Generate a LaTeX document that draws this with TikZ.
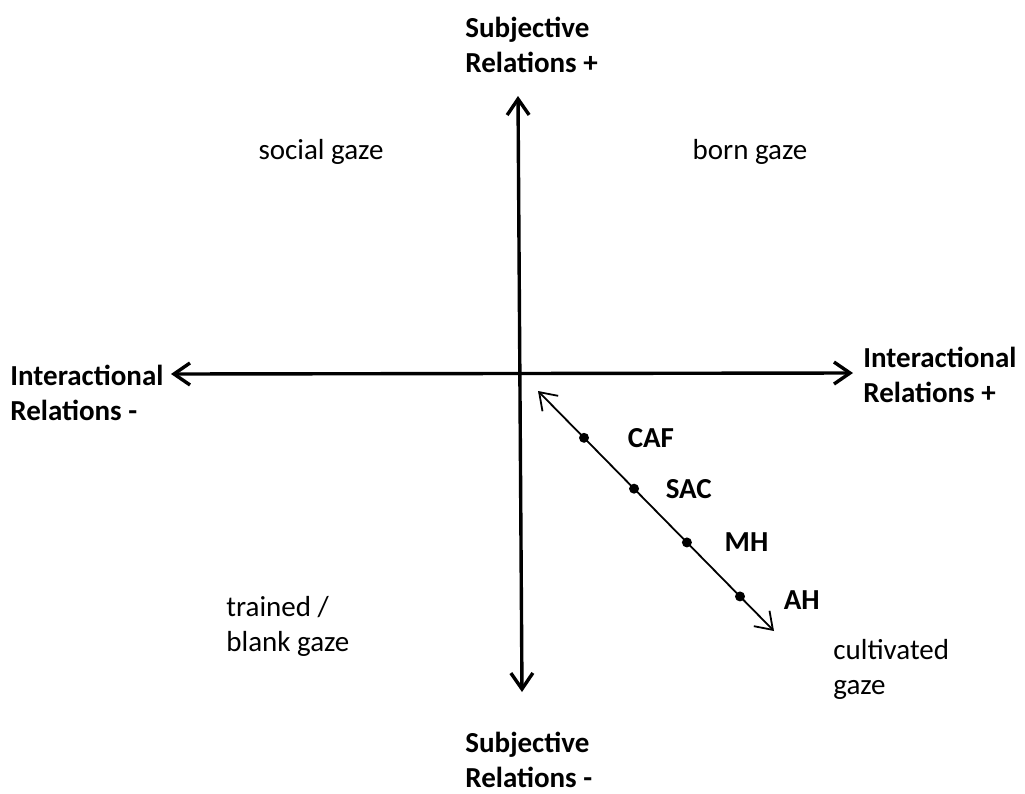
\documentclass[tikz,border=0pt]{standalone}
\usepackage{fontspec}
\setmainfont{Carlito}
\usetikzlibrary{arrows.meta,positioning,calc}
\tikzset{
  axislbl/.style={inner sep=0pt, align=left, font=\fontsize{14.5}{17.5}\selectfont\bfseries},
  gazelbl/.style={inner sep=0pt, align=left, font=\fontsize{14.5}{17.5}\selectfont},
  ptlbl/.style={inner sep=0pt, font=\fontsize{14.5}{17.5}\selectfont\bfseries},
  ptdot/.style={circle, fill=black, inner sep=0pt, minimum size=5pt},
  axarr/.style={{Straight Barb[length=8pt,width=11pt]}-{Straight Barb[length=8pt,width=11pt]}, line width=1.7pt},
  dgarr/.style={{Straight Barb[length=8pt,width=11pt]}-{Straight Barb[length=8pt,width=11pt]}, line width=0.9pt}}
\begin{document}
\begin{tikzpicture}[x=0.5pt, y=-0.5pt]
    \useasboundingbox (0,0) rectangle (1025,794);
    % axis labels
    \node[axislbl, anchor=west] (subjp) at (465,45) {Subjective\\Relations +};
    \node[axislbl, anchor=west] (subjm) at (465,760) {Subjective\\Relations -};
    \node[axislbl, anchor=west] (interm) at (10,393) {Interactional\\Relations -};
    \node[axislbl, anchor=west] (interp) at (863,375) {Interactional\\Relations +};
    % quadrant labels
    \node[gazelbl] (social) at (321,152) {social gaze};
    \node[gazelbl] (born) at (750,152) {born gaze};
    \node[gazelbl, anchor=west] (trained) at (226,626) {trained /\\blank gaze};
    \node[gazelbl, anchor=west] (cultiv) at (833,669) {cultivated\\gaze};
    % axes
    \coordinate (ytop) at (518,96);
    \coordinate (ybot) at (522,692);
    \coordinate (xleft) at (171,374);
    \coordinate (xright) at (853,373);
    \draw[axarr] (ybot) -- (ytop);
    \draw[axarr] (xleft) -- (xright);
    % diagonal with the four points
    \coordinate (dgA) at (538,391);
    \coordinate (dgB) at (774,631);
    \draw[dgarr] (dgA) -- (dgB);
    \node[ptdot] (caf) at ($(dgA)!0.195!(dgB)$) {};
    \node[ptdot] (sac) at ($(dgA)!0.407!(dgB)$) {};
    \node[ptdot] (mh) at ($(dgA)!0.631!(dgB)$) {};
    \node[ptdot] (ah) at ($(dgA)!0.856!(dgB)$) {};
    \node[ptlbl, right=19pt of caf] (caflbl) {CAF};
    \node[ptlbl, right=13pt of sac] (saclbl) {SAC};
    \node[ptlbl, right=16pt of mh] (mhlbl) {MH};
    \node[ptlbl, right=19pt of ah, yshift=-2pt] (ahlbl) {AH};
\end{tikzpicture}
\end{document}
